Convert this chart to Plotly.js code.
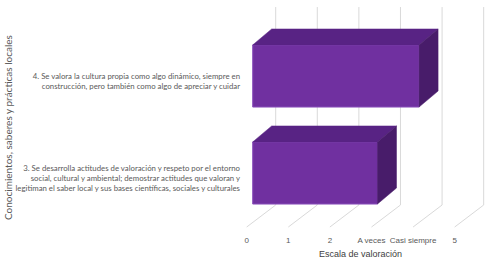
<!DOCTYPE html>
<html>
<head>
<meta charset="utf-8">
<script src="https://cdn.plot.ly/plotly-3.0.1.min.js"></script>
<style>html,body{margin:0;padding:0;background:#fff}#chart{width:490px;height:261px}</style>
</head>
<body>
<div id="chart"></div>
<script>
// ---- data ----
var categories = [
  "3. Se desarrolla actitudes de valoración y respeto por el entorno<br>social, cultural y ambiental; demostrar actitudes que valoran y<br>legitiman el saber local y sus bases científicas, sociales y culturales",
  "4. Se valora la cultura propia como algo dinámico, siempre en<br>construcción, pero también como algo de apreciar y cuidar"
];
var values = [3, 4];
var tickValues = [0, 1, 2, 3, 4, 5];
var tickLabels = ["0", "1", "2", "A veces", "Casi siempre", "5"];
var xTitle = "Escala de valoración";
var yTitle = "Conocimientos, saberes y prácticas locales";

// ---- 3D geometry (axis units) ----
var G = {
  floorY: -0.505,
  depthX: 0.697, depthY: 0.227,
  wallTop: 1.763,
  barX0: 0.144,
  barYOff: 0.052,
  barHalf: 0.32,
  barDX: 0.457, barDY: 0.165
};
var catPos = categories.map(function (c, i) { return i; });

// gridlines as shapes beneath the data
var shapes = [];
tickValues.forEach(function (t) {
  shapes.push({type: 'line', xref: 'x', yref: 'y', layer: 'below',
    x0: t, y0: G.floorY, x1: t + G.depthX, y1: G.floorY + G.depthY,
    line: {color: '#D9D9D9', width: 1}});
  shapes.push({type: 'line', xref: 'x', yref: 'y', layer: 'below',
    x0: t + G.depthX, y0: G.floorY + G.depthY, x1: t + G.depthX, y1: G.wallTop,
    line: {color: '#D9D9D9', width: 1}});
});

var traces = [];
// front faces
traces.push({
  type: 'bar', orientation: 'h',
  y: catPos.map(function (p) { return p + G.barYOff; }),
  x: values, base: values.map(function () { return G.barX0; }),
  width: 2 * G.barHalf,
  marker: {color: '#7030A0', line: {color: '#8A4FBA', width: 1}},
  showlegend: false
});

// top and side faces
values.forEach(function (v, i) {
  var yc = catPos[i] + G.barYOff, yt = yc + G.barHalf, yb = yc - G.barHalf;
  var x0 = G.barX0, x1 = G.barX0 + v;
  traces.push({
    type: 'scatter', mode: 'lines', fill: 'toself', fillcolor: '#582384',
    x: [x0, x0 + G.barDX, x1 + G.barDX, x1, x0],
    y: [yt, yt + G.barDY, yt + G.barDY, yt, yt],
    line: {color: '#582384', width: 0.5}, hoverinfo: 'skip', showlegend: false
  });
  traces.push({
    type: 'scatter', mode: 'lines', fill: 'toself', fillcolor: '#481C6A',
    x: [x1, x1, x1 + G.barDX, x1 + G.barDX, x1],
    y: [yb, yt, yt + G.barDY, yb + G.barDY, yb],
    line: {color: '#481C6A', width: 0.5}, hoverinfo: 'skip', showlegend: false
  });
});

var layout = {
  width: 490, height: 261,
  margin: {l: 244, r: 0, t: 5, b: 30},
  paper_bgcolor: '#fff', plot_bgcolor: '#fff',
  barmode: 'overlay',
  shapes: shapes,
  xaxis: {
    range: [-0.065, 5.849], tickvals: tickValues, ticktext: tickLabels,
    showgrid: false, zeroline: false, showline: false, ticks: '',
    ticklabelstandoff: 3,
    tickfont: {family: 'Liberation Sans, Arial, sans-serif', size: 8, color: '#595959'},
    fixedrange: true
  },
  yaxis: {
    range: [-0.546, 1.784], tickvals: catPos, ticktext: categories,
    showgrid: false, zeroline: false, showline: false, ticks: '',
    ticklabelstandoff: 3,
    tickfont: {family: 'Lato, sans-serif', size: 7.8, color: '#595959'},
    fixedrange: true
  },
  annotations: [
    {text: xTitle, xref: 'paper', yref: 'paper', x: (360 - 244) / 246, y: -(254 - 231) / 226,
     xanchor: 'center', yanchor: 'middle', showarrow: false,
     font: {family: 'Liberation Sans, Arial, sans-serif', size: 9, color: '#404040'}},
    {text: yTitle, xref: 'paper', yref: 'paper', x: -(244 - 8) / 246, y: (231 - 128) / 226,
     xanchor: 'center', yanchor: 'middle', showarrow: false, textangle: -90,
     font: {family: 'Lato, sans-serif', size: 10, color: '#595959'}}
  ]
};
Plotly.newPlot('chart', traces, layout, {staticPlot: true, displayModeBar: false});
</script>
</body>
</html>
